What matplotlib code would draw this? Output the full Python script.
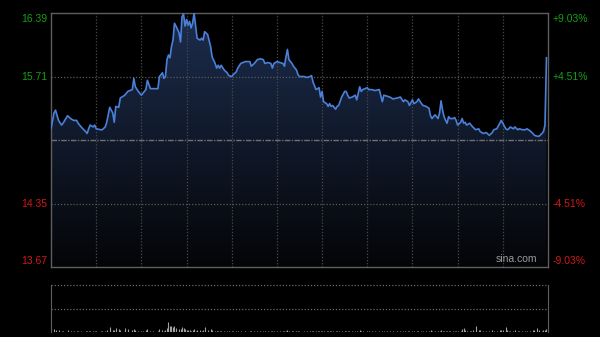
import matplotlib
matplotlib.use('Agg')
import matplotlib.pyplot as plt
import numpy as np
from matplotlib.colors import LinearSegmentedColormap

plt.rcParams['font.family'] = ['Liberation Sans', 'DejaVu Sans']

# intraday minutes after open (HK session, 330 minutes), last price, volume
minutes = [0, 2, 3, 5, 7, 8, 11, 13, 15, 17, 18, 20, 23, 24, 25, 26, 28, 29, 30, 33,
           34, 36, 37, 39, 41, 42, 43, 45, 46, 49, 51, 54, 55, 56, 58, 60, 61, 63, 64, 66,
           68, 71, 72, 74, 75, 76, 77, 78, 79, 80, 81, 82, 83, 85, 86, 87, 88, 89, 90, 91,
           92, 93, 94, 95, 96, 97, 99, 100, 101, 102, 104, 106, 107, 109, 110, 111, 112, 113, 115, 117,
           118, 120, 121, 123, 124, 126, 129, 132, 133, 135, 137, 139, 141, 142, 144, 146, 147, 148, 150, 152,
           154, 155, 156, 157, 158, 160, 161, 163, 164, 165, 168, 170, 172, 173, 174, 176, 177, 178, 179, 180,
           181, 183, 184, 185, 186, 187, 189, 190, 191, 193, 195, 196, 197, 198, 200, 202, 203, 205, 206, 207,
           210, 211, 213, 215, 218, 220, 221, 223, 225, 227, 230, 232, 234, 235, 237, 238, 240, 241, 243, 244,
           246, 247, 249, 251, 252, 253, 255, 257, 258, 259, 260, 261, 262, 263, 264, 265, 267, 268, 269, 270,
           272, 273, 274, 275, 276, 278, 279, 280, 282, 284, 285, 287, 289, 291, 293, 294, 296, 298, 299, 300,
           302, 303, 304, 305, 307, 308, 310, 311, 313, 315, 316, 318, 320, 321, 323, 324, 326, 327, 328, 329]

prices = [15.15, 15.32, 15.35, 15.24, 15.19, 15.21, 15.29, 15.26, 15.24, 15.24,
          15.21, 15.17, 15.12, 15.10, 15.15, 15.19, 15.17, 15.19, 15.15, 15.14,
          15.14, 15.17, 15.22, 15.38, 15.32, 15.22, 15.39, 15.38, 15.48, 15.51,
          15.55, 15.57, 15.69, 15.60, 15.55, 15.51, 15.53, 15.57, 15.67, 15.58,
          15.58, 15.58, 15.71, 15.75, 15.69, 15.71, 15.89, 15.94, 15.91, 16.03,
          16.10, 16.28, 16.25, 16.18, 16.08, 16.35, 16.38, 16.25, 16.32, 16.26,
          16.30, 16.23, 16.28, 16.39, 16.25, 16.12, 16.10, 16.12, 16.10, 16.19,
          16.16, 16.03, 15.92, 15.85, 15.80, 15.83, 15.80, 15.83, 15.78, 15.75,
          15.72, 15.71, 15.73, 15.76, 15.80, 15.85, 15.87, 15.87, 15.82, 15.85,
          15.89, 15.90, 15.89, 15.85, 15.86, 15.85, 15.80, 15.85, 15.87, 15.86,
          15.85, 15.82, 15.92, 16.00, 15.89, 15.85, 15.82, 15.78, 15.73, 15.71,
          15.71, 15.70, 15.71, 15.72, 15.65, 15.57, 15.58, 15.59, 15.49, 15.55,
          15.44, 15.42, 15.39, 15.42, 15.39, 15.40, 15.36, 15.39, 15.40, 15.49,
          15.55, 15.55, 15.51, 15.48, 15.49, 15.51, 15.46, 15.60, 15.55, 15.57,
          15.59, 15.57, 15.57, 15.56, 15.57, 15.44, 15.51, 15.50, 15.49, 15.47,
          15.48, 15.49, 15.44, 15.46, 15.44, 15.40, 15.46, 15.42, 15.44, 15.47,
          15.42, 15.40, 15.39, 15.37, 15.29, 15.26, 15.30, 15.26, 15.32, 15.45,
          15.35, 15.28, 15.24, 15.21, 15.28, 15.26, 15.26, 15.27, 15.24, 15.19,
          15.22, 15.26, 15.21, 15.22, 15.19, 15.21, 15.19, 15.17, 15.14, 15.15,
          15.12, 15.10, 15.11, 15.08, 15.11, 15.14, 15.15, 15.21, 15.24, 15.21,
          15.15, 15.14, 15.15, 15.17, 15.15, 15.17, 15.14, 15.15, 15.14, 15.14,
          15.15, 15.13, 15.10, 15.08, 15.07, 15.07, 15.10, 15.12, 15.19, 15.91]

volumes = [9, 6, 5, 4, 3, 3, 4, 3, 2, 3, 2, 3, 3, 3, 2, 3, 2, 2, 3, 2,
           2, 3, 4, 10, 5, 4, 8, 7, 5, 8, 6, 5, 7, 4, 3, 3, 3, 4, 6, 3,
           3, 3, 6, 5, 3, 4, 9, 21, 12, 13, 10, 12, 8, 7, 6, 10, 8, 6, 5, 4,
           4, 3, 4, 6, 3, 5, 4, 3, 4, 10, 5, 6, 4, 3, 3, 3, 3, 2, 3, 3,
           2, 3, 2, 3, 3, 3, 2, 2, 2, 2, 2, 3, 2, 2, 2, 2, 2, 2, 3, 2,
           2, 2, 3, 4, 3, 2, 2, 2, 3, 2, 2, 2, 2, 2, 3, 3, 2, 2, 3, 2,
           3, 3, 2, 2, 2, 2, 3, 2, 2, 3, 3, 2, 2, 2, 2, 2, 2, 4, 3, 2,
           3, 2, 2, 2, 3, 3, 2, 2, 2, 2, 2, 2, 2, 2, 2, 3, 2, 2, 2, 2,
           2, 2, 3, 3, 4, 3, 3, 3, 3, 5, 3, 3, 3, 3, 2, 3, 2, 2, 3, 3,
           3, 6, 8, 4, 3, 3, 3, 4, 12, 5, 4, 3, 3, 3, 4, 3, 3, 4, 5, 4,
           10, 4, 3, 3, 3, 4, 3, 3, 3, 3, 3, 3, 4, 5, 8, 4, 3, 4, 5, 6]

prev_close = 15.03
y_low, y_high = 13.67, 16.39
left_labels = ['16.39', '15.71', '14.35', '13.67']
left_levels = [16.39, 15.71, 14.35, 13.67]
right_labels = ['+9.03%', '+4.51%', '-4.51%', '-9.03%']

green = '#14a014'
red = '#d01818'
frame = '#5e5e5e'

fig = plt.figure(figsize=(6, 3.37), dpi=100, facecolor='black')
ax = fig.add_axes([0.085, 0.2077, 0.8283, 0.7537])
ax.set_facecolor('black')
ax.set_xlim(0, 330)
ax.set_ylim(y_low, y_high)

# gradient fill under the price line
poly = ax.fill_between(minutes, prices, y_low, color='none', lw=0)
grad = np.linspace(1, 0, 256).reshape(-1, 1)
cmap = LinearSegmentedColormap.from_list('fillgrad', ['#040507', '#1d2d4e'])
img = ax.imshow(grad, cmap=cmap, vmin=0, vmax=1, extent=[0, 330, y_low, y_high],
                aspect='auto', origin='upper', zorder=1)
img.set_clip_path(poly.get_paths()[0], transform=ax.transData)

# grid
for m in range(30, 330, 30):
    ax.axvline(m, color='#4a4a4a', lw=0.9, ls=(0, (1, 1.5)), zorder=2)
for lv in [15.71, 14.35]:
    ax.axhline(lv, color='#5a5a5a', lw=0.9, ls=(0, (1, 1.5)), zorder=2)
ax.axhline(prev_close, color='#707070', lw=1.0, ls=(0, (4, 1, 1, 1)), zorder=2)

ax.plot(minutes, prices, color='#4a80d8', lw=1.2, zorder=3)

for s in ax.spines.values():
    s.set_color(frame)
    s.set_linewidth(1.0)
ax.set_xticks([])
ax.set_yticks([])

# left price labels / right percent labels
offsets = [-4.5, 0, 0, 4.5]
for lab, lv, rl, dy in zip(left_labels, left_levels, right_labels, offsets):
    col = green if lv > prev_close else red
    ax.annotate(lab, xy=(0, lv), xycoords=ax.get_yaxis_transform(),
                xytext=(-3, dy), textcoords='offset points',
                ha='right', va='center', color=col, fontsize=7.5)
    ax.annotate(rl, xy=(1, lv), xycoords=ax.get_yaxis_transform(),
                xytext=(3.5, dy), textcoords='offset points',
                ha='left', va='center', color=col, fontsize=7.5)

ax.text(0.978, 0.01, 'sina.com', transform=ax.transAxes, ha='right', va='bottom',
        color='#9a9a9a', fontsize=7.5, zorder=4)

# volume panel
vx = fig.add_axes([0.085, 0.0148, 0.8283, 0.1395])
vx.set_facecolor('black')
vx.set_xlim(0, 330)
vx.set_ylim(0, 100)
vx.vlines(minutes, 0, volumes, color='#a0a0a0', lw=0.8)
vx.axhline(100, color='#6a6a6a', lw=0.9, ls=(0, (1, 1.5)), clip_on=False)
vx.axhline(50, color='#6a6a6a', lw=0.9, ls=(0, (1, 1.5)))
for k in ['top', 'bottom']:
    vx.spines[k].set_visible(False)
for k in ['left', 'right']:
    vx.spines[k].set_color(frame)
vx.set_xticks([])
vx.set_yticks([])

fig.savefig('out.png', dpi=100, facecolor='black')
